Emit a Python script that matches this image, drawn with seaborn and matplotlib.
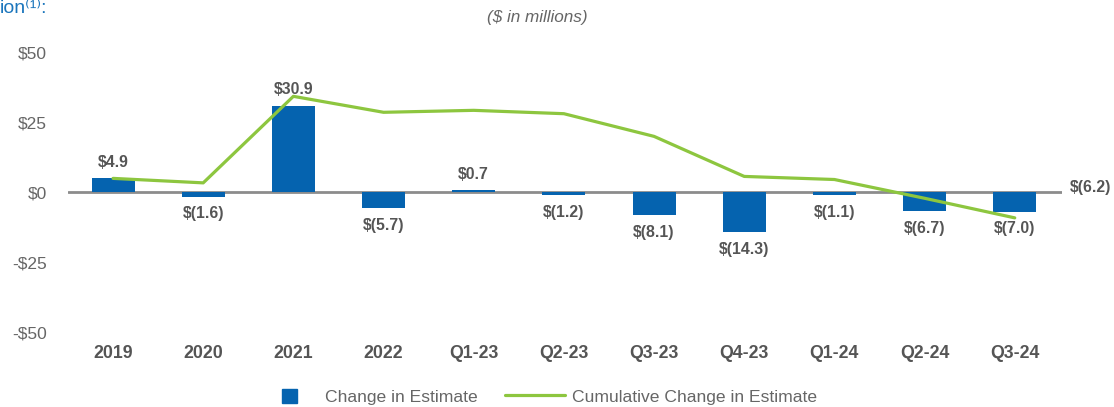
import matplotlib
matplotlib.use("Agg")
import matplotlib.pyplot as plt
import seaborn as sns
import numpy as np
import pandas as pd
from matplotlib.patches import Patch
from matplotlib.lines import Line2D

categories = ["2019", "2020", "2021", "2022", "Q1-23", "Q2-23", "Q3-23", "Q4-23", "Q1-24", "Q2-24", "Q3-24"]
change = [4.9, -1.6, 30.9, -5.7, 0.7, -1.2, -8.1, -14.3, -1.1, -6.7, -7.0]
cumulative = [4.9, 3.3, 34.2, 28.5, 29.2, 28.0, 19.9, 5.6, 4.5, -2.2, -9.2]
bar_labels = ["$4.9", "$(1.6)", "$30.9", "$(5.7)", "$0.7", "$(1.2)", "$(8.1)", "$(14.3)", "$(1.1)", "$(6.7)", "$(7.0)"]
yticks = [50, 25, 0, -25, -50]
ytick_labels = ["$50", "$25", "$0", "-$25", "-$50"]

sns.set_theme(style="white")
plt.rcParams['font.family'] = ['Liberation Sans', 'DejaVu Sans']

BLUE = "#0563AF"
GREEN = "#8DC63F"
GRAY_TXT = "#555555"
TICK_TXT = "#666666"

fig = plt.figure(figsize=(11.14, 4.07), dpi=100)
ax = fig.add_axes([0.061, 0.184, 0.892, 0.688])

df = pd.DataFrame({"cat": categories, "change": change})
sns.barplot(data=df, x="cat", y="change", color=BLUE, saturation=1, width=0.477,
            linewidth=0, edgecolor=BLUE, ax=ax, zorder=2)
sns.lineplot(x=np.arange(len(categories)), y=cumulative, color=GREEN, linewidth=2.3, ax=ax, zorder=3)

ax.axhline(0, color="#8c8c8c", linewidth=2, zorder=1)
ax.set_xlim(-0.5, 10.52)
ax.set_ylim(-50, 50)
ax.set_yticks(yticks)
ax.set_yticklabels(ytick_labels, color=TICK_TXT, fontsize=12.5)
ax.set_xticks(range(len(categories)))
ax.set_xticklabels(categories, color=GRAY_TXT, fontsize=12.8, fontweight="bold")
ax.tick_params(axis="y", length=0, pad=15)
ax.tick_params(axis="x", length=0, pad=9)
ax.set_xlabel("")
ax.set_ylabel("")
for s in ax.spines.values():
    s.set_visible(False)

for i, (v, lab) in enumerate(zip(change, bar_labels)):
    if v >= 0:
        ax.annotate(lab, (i, v), xytext=(0, 6), textcoords="offset points", ha="center", va="bottom",
                    fontsize=11.4, fontweight="bold", color=GRAY_TXT)
    else:
        ax.annotate(lab, (i, v), xytext=(0, -7), textcoords="offset points", ha="center", va="top",
                    fontsize=11.4, fontweight="bold", color=GRAY_TXT)

ax.annotate("$(6.2)", (1, 0), xycoords=("axes fraction", "data"), xytext=(6, 3), textcoords="offset points",
            ha="left", va="center", fontsize=11.4, fontweight="bold", color=GRAY_TXT, annotation_clip=False)

fig.text(0.482, 0.956, "($ in millions)", ha="center", va="center", fontsize=12.3, style="italic", color=TICK_TXT)
fig.text(0.0, 0.999, "ion\u207d\u00b9\u207e:", ha="left", va="top", fontsize=14, color="#1a75bc")

leg1 = fig.legend([Patch(facecolor=BLUE, edgecolor=BLUE)], ["Change in Estimate"], loc="center left",
                  bbox_to_anchor=(0.2531, 0.0246), frameon=False, fontsize=12.6, borderpad=0,
                  borderaxespad=0, handlelength=0.86, handleheight=0.86, handletextpad=1.6,
                  labelcolor=TICK_TXT)
leg2 = fig.legend([Line2D([0], [0], color=GREEN, linewidth=2.3)], ["Cumulative Change in Estimate"],
                  loc="center left", bbox_to_anchor=(0.4533, 0.0246), frameon=False, fontsize=12.6,
                  borderpad=0, borderaxespad=0, handlelength=3.43, handletextpad=0.4,
                  labelcolor=TICK_TXT)

fig.savefig("out.png", dpi=100)
